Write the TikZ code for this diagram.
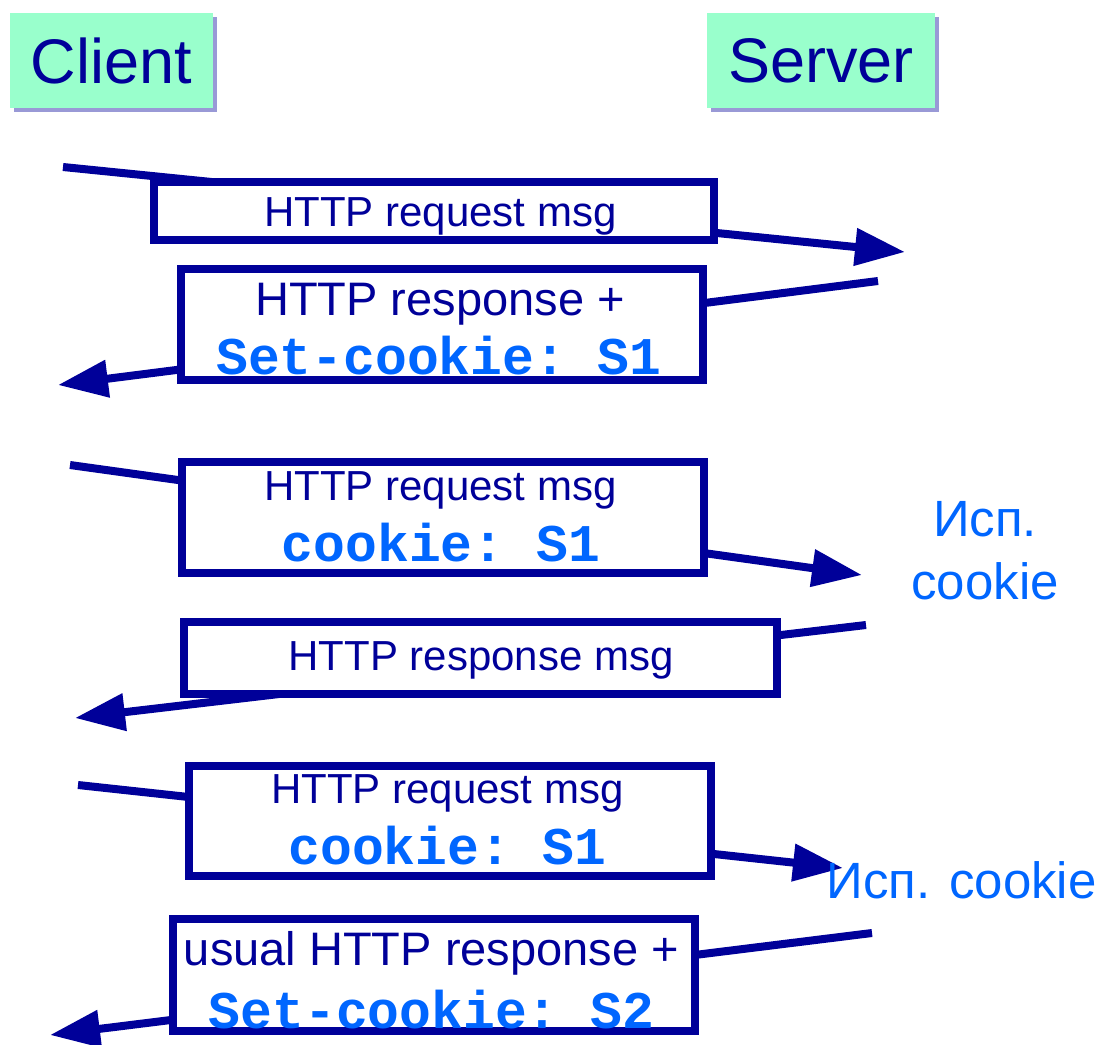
\documentclass[tikz,border=0pt]{standalone}
\usepackage{fontspec}
\setmainfont{Liberation Sans}
\setmonofont{Liberation Mono}
\usepackage{tikz}
\usetikzlibrary{arrows.meta,shadows}
\definecolor{linkblue}{HTML}{000099}
\definecolor{cookieblue}{HTML}{0066FF}
\definecolor{hostgreen}{HTML}{99FFCC}

\begin{document}
\begin{tikzpicture}[
  x=0.5pt, y=-0.5pt,
  host/.style={fill=hostgreen,inner sep=0pt,minimum height=47.5pt,text=linkblue,
    font=\fontsize{31.5}{36}\selectfont,
    drop shadow={shadow xshift=2pt,shadow yshift=-2pt,fill=linkblue,opacity=0.4}},
  msgbox/.style={draw=linkblue,line width=4pt,fill=white,inner sep=0pt},
  msgtext/.style={text=linkblue,font=\fontsize{21}{25}\selectfont,anchor=base,inner sep=0pt},
  bigtext/.style={msgtext,font=\fontsize{23.5}{28}\selectfont},
  cookietext/.style={text=cookieblue,font=\ttfamily\bfseries\fontsize{26.5}{30}\selectfont,anchor=base,inner sep=0pt},
  note/.style={text=cookieblue,font=\fontsize{25.5}{31.5}\selectfont,inner sep=0pt},
  msgline/.style={linkblue,line width=4pt,-{Triangle[length=25pt,width=18pt]}}]

  \useasboundingbox (0,0) rectangle (1100,1045);

  % Client and server
  \node[host,minimum width=101.5pt] (client) at (111.5,60.5) {Client};
  \node[host,minimum width=114pt] (server) at (821,60.5) {Server};

  % End points of the messages
  \coordinate (req_one_from) at (63,167);
  \coordinate (req_one_to) at (905,252);
  \coordinate (resp_one_from) at (878,281);
  \coordinate (resp_one_to) at (58,385);
  \coordinate (req_two_from) at (70,465);
  \coordinate (req_two_to) at (862,575);
  \coordinate (resp_two_from) at (866,625);
  \coordinate (resp_two_to) at (75,718);
  \coordinate (req_three_from) at (78,785);
  \coordinate (req_three_to) at (843,868);
  \coordinate (resp_three_from) at (872,933);
  \coordinate (resp_three_to) at (50,1035);

  % Draw the messages, the boxes go on top of them
  \draw[msgline] (req_one_from) -- (req_one_to);
  \draw[msgline] (resp_one_from) -- (resp_one_to);
  \draw[msgline] (req_two_from) -- (req_two_to);
  \draw[msgline] (resp_two_from) -- (resp_two_to);
  \draw[msgline] (req_three_from) -- (req_three_to);
  \draw[msgline] (resp_three_from) -- (resp_three_to);

  \node[msgbox,minimum width=280pt,minimum height=29pt] (req_one) at (434,211) {};
  \node[msgbox,minimum width=261pt,minimum height=55.5pt] (resp_one) at (442,324.5) {};
  \node[msgbox,minimum width=261pt,minimum height=55.5pt] (req_two) at (443,517.5) {};
  \node[msgbox,minimum width=296.5pt,minimum height=36pt] (resp_two) at (480.5,658) {};
  \node[msgbox,minimum width=261pt,minimum height=55pt] (req_three) at (450,821) {};
  \node[msgbox,minimum width=261pt,minimum height=56pt] (resp_three) at (434,975) {};

  % Texts of the boxes
  \node[msgtext] (req_one_text) at (440.5,226) {HTTP request msg};
  \node[bigtext] (resp_one_text) at (440,315) {HTTP response +};
  \node[cookietext] (resp_one_cookie) at (439,374) {Set-cookie: S1};
  \node[msgtext] (req_two_text) at (440.5,500) {HTTP request msg};
  \node[cookietext] (req_two_cookie) at (441,561) {cookie: S1};
  \node[msgtext] (resp_two_text) at (481,670) {HTTP response msg};
  \node[msgtext] (req_three_text) at (447.5,803) {HTTP request msg};
  \node[cookietext] (req_three_cookie) at (447.5,864) {cookie: S1};
  \node[bigtext] (resp_three_text) at (431.5,965) {usual HTTP response +};
  \node[cookietext] (resp_three_cookie) at (431.5,1028) {Set-cookie: S2};

  % Notes at the server
  \node[note,align=center] (use_one) at (985,551) {Исп.\\cookie};
  \node[note,anchor=base] (use_two) at (961.5,898) {Исп. cookie};
\end{tikzpicture}
\end{document}
